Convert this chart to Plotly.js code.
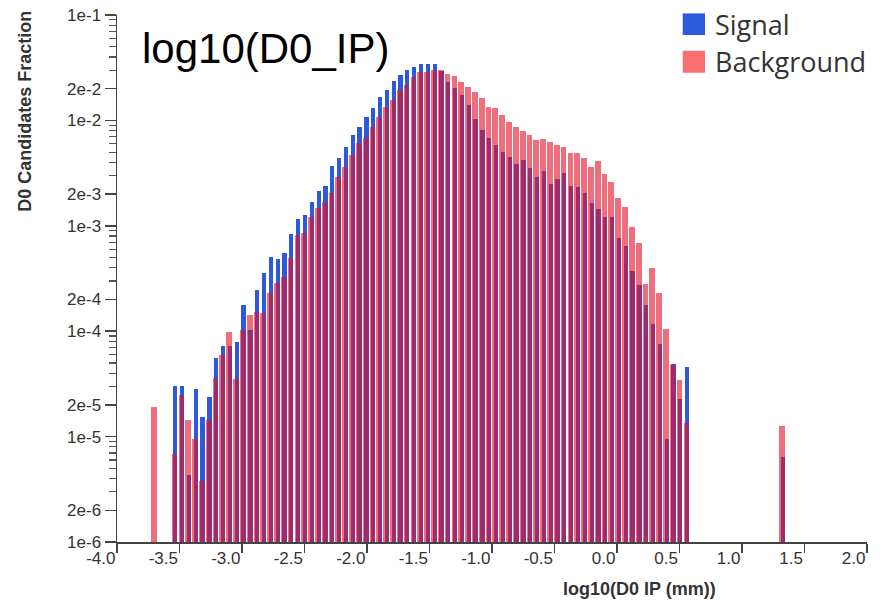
<!DOCTYPE html>
<html><head><meta charset="utf-8">
<script src="https://cdn.plot.ly/plotly-3.0.1.min.js"></script>
<style>html,body{margin:0;padding:0;background:#fff}#chart{width:887px;height:604px}</style>
</head><body><div id="chart"></div>
<script>
// bin centres of log10(D0 IP (mm))
const binCenters = [-3.704,
 -3.540,-3.485,-3.431,-3.376,-3.322,-3.267,-3.212,-3.158,-3.103,-3.049,
 -2.994,-2.939,-2.885,-2.830,-2.776,-2.721,-2.666,-2.612,-2.557,-2.503,
 -2.448,-2.393,-2.339,-2.284,-2.230,-2.175,-2.120,-2.066,-2.011,-1.957,
 -1.902,-1.847,-1.793,-1.738,-1.684,-1.629,-1.574,-1.520,-1.465,-1.411,
 -1.356,-1.301,-1.247,-1.192,-1.138,-1.083,-1.028,-0.974,-0.919,-0.865,
 -0.810,-0.755,-0.701,-0.646,-0.592,-0.537,-0.482,-0.428,-0.373,-0.319,
 -0.264,-0.209,-0.155,-0.100,-0.046,0.009,0.064,0.118,0.173,0.227,
 0.282,0.337,0.391,0.446,0.500,0.555,
 1.319];

const signalFrac = [null,
 3.0e-5,3.0e-5,4.3e-6,2.8e-5,1.53e-5,2.35e-5,5.6e-5,7.2e-5,7.3e-5,7.85e-5,
 1.76e-4,1.02e-4,2.45e-4,3.57e-4,5.1e-4,4.8e-4,5.5e-4,8.3e-4,1.16e-3,1.28e-3,
 1.69e-3,2.13e-3,2.41e-3,3.7e-3,4.36e-3,5.6e-3,7.2e-3,8.7e-3,1.08e-2,1.30e-2,
 1.65e-2,1.94e-2,2.38e-2,2.69e-2,3.0e-2,3.23e-2,3.43e-2,3.45e-2,3.4e-2,2.95e-2,
 2.33e-2,2.01e-2,1.74e-2,1.40e-2,1.04e-2,8.1e-3,6.75e-3,5.8e-3,5.03e-3,4.5e-3,
 3.9e-3,4.2e-3,3.5e-3,2.91e-3,3.32e-3,2.48e-3,2.81e-3,3.18e-3,2.38e-3,2.35e-3,
 2.05e-3,1.65e-3,1.43e-3,1.22e-3,1.21e-3,7.6e-4,6.5e-4,3.73e-4,2.73e-4,1.76e-4,
 1.18e-4,7.6e-5,9.5e-6,4.9e-5,2.29e-5,4.57e-5,
 6.4e-6];

const backgroundFrac = [1.9e-5,
 6.9e-6,2.5e-5,1.45e-5,9.5e-6,3.8e-6,1.45e-5,3.6e-5,6.0e-5,9.8e-5,3.55e-5,
 1.02e-4,1.41e-4,1.52e-4,1.5e-4,2.3e-4,2.85e-4,3.25e-4,4.9e-4,8.1e-4,8.5e-4,
 1.22e-3,1.47e-3,1.69e-3,2.05e-3,2.91e-3,3.63e-3,4.68e-3,6.05e-3,6.75e-3,8.7e-3,
 1.08e-2,1.35e-2,1.56e-2,1.94e-2,2.16e-2,2.6e-2,2.9e-2,2.9e-2,3.0e-2,3.0e-2,
 2.73e-2,2.65e-2,2.33e-2,2.08e-2,1.87e-2,1.62e-2,1.35e-2,1.30e-2,1.12e-2,9.6e-3,
 8.7e-3,7.96e-3,7.2e-3,6.5e-3,6.6e-3,6.26e-3,5.83e-3,5.6e-3,4.92e-3,4.92e-3,
 4.36e-3,3.62e-3,4.1e-3,3.08e-3,2.61e-3,1.82e-3,1.51e-3,9.8e-4,6.9e-4,2.83e-4,
 4.0e-4,2.28e-4,1.04e-4,4.8e-5,3.47e-5,1.35e-5,
 1.25e-5];

const yTickVals = [1e-1,2e-2,1e-2,2e-3,1e-3,2e-4,1e-4,2e-5,1e-5,2e-6,1e-6];
const yTickText = ['1e-1','2e-2','1e-2','2e-3','1e-3','2e-4','1e-4','2e-5','1e-5','2e-6','1e-6'];
const yMinorVals = [
 3e-2,4e-2,5e-2,6e-2,7e-2,8e-2,9e-2,
 3e-3,4e-3,5e-3,6e-3,7e-3,8e-3,9e-3,
 3e-4,4e-4,5e-4,6e-4,7e-4,8e-4,9e-4,
 3e-5,4e-5,5e-5,6e-5,7e-5,8e-5,9e-5,
 3e-6,4e-6,5e-6,6e-6,7e-6,8e-6,9e-6];
const xTickVals = [-4,-3.5,-3,-2.5,-2,-1.5,-1,-0.5,0,0.5,1,1.5,2];
const xTickText = ['-4.0','-3.5','-3.0','-2.5','-2.0','-1.5','-1.0','-0.5','0.0','0.5','1.0','1.5','2.0'];

const seriesNames = ['Signal','Background'];
const signalColor = 'rgb(45,90,220)';
const backgroundColor = 'rgba(228,14,36,0.6)';
const legendBg = 'rgb(250,112,112)';

const traces = [
 {type:'bar', name:seriesNames[0], x:binCenters, y:signalFrac,
  width:0.034, offset:-0.011, marker:{color:signalColor, line:{width:0}},
  showlegend:false, hoverinfo:'x+y'},
 {type:'bar', name:seriesNames[1], x:binCenters, y:backgroundFrac,
  width:0.046, offset:-0.023, marker:{color:backgroundColor, line:{width:0}},
  showlegend:false, hoverinfo:'x+y'}
];

const tickFont = {family:'Liberation Sans, Arial, sans-serif', size:17, color:'#333'};
const layout = {
 width:887, height:604,
 margin:{l:117, r:20, t:15, b:62},
 paper_bgcolor:'#fff', plot_bgcolor:'#fff',
 barmode:'overlay', bargap:0,
 xaxis:{range:[-4,2], tickmode:'array', tickvals:xTickVals, ticktext:xTickText,
   ticks:'outside', ticklen:9, tickwidth:1.5, tickcolor:'#444',
   showline:true, linecolor:'#444', linewidth:1.5, showgrid:false, zeroline:false,
   ticklabelposition:'outside left', tickfont:tickFont},
 yaxis:{type:'log', range:[-6,-1], tickmode:'array', tickvals:yTickVals, ticktext:yTickText,
   ticks:'outside', ticklen:11, tickwidth:1.5, tickcolor:'#444',
   minor:{tickmode:'array', tickvals:yMinorVals, ticks:'outside', ticklen:7, tickwidth:1.2, tickcolor:'#555', showgrid:false},
   showline:true, linecolor:'#444', linewidth:1.5, showgrid:false, zeroline:false,
   tickfont:tickFont},
 shapes:[
  {type:'rect', xref:'paper', yref:'paper', x0:0.7543, x1:0.784, y0:0.962, y1:1.003, fillcolor:signalColor, line:{width:0}},
  {type:'rect', xref:'paper', yref:'paper', x0:0.7543, x1:0.784, y0:0.8904, y1:0.9322, fillcolor:legendBg, line:{width:0}}
 ],
 annotations:[
  {text:'log10(D0_IP)', xref:'paper', yref:'paper', x:0.0307, y:0.937, xanchor:'left', yanchor:'middle', showarrow:false,
   font:{family:'Liberation Sans, Arial, sans-serif', size:42, color:'#000'}},
  {text:seriesNames[0], xref:'paper', yref:'paper', x:0.795, y:0.982, xanchor:'left', yanchor:'middle', showarrow:false,
   font:{family:'Open Sans, sans-serif', size:27, color:'#333'}},
  {text:seriesNames[1], xref:'paper', yref:'paper', x:0.795, y:0.911, xanchor:'left', yanchor:'middle', showarrow:false,
   font:{family:'Open Sans, sans-serif', size:27, color:'#333'}},
  {text:'<b>log10(D0 IP (mm))</b>', xref:'paper', yref:'paper', x:0.697, y:-0.0898, xanchor:'center', yanchor:'middle', showarrow:false,
   font:{family:'Liberation Sans, Arial, sans-serif', size:18, color:'#333'}},
  {text:'<b>D0 Candidates Fraction</b>', xref:'paper', yref:'paper', x:-0.123, y:0.8177, xanchor:'center', yanchor:'middle', textangle:-90, showarrow:false,
   font:{family:'Liberation Sans, Arial, sans-serif', size:18, color:'#333'}}
 ]
};

Plotly.newPlot('chart', traces, layout, {displayModeBar:false, staticPlot:true});
</script>
</body></html>
